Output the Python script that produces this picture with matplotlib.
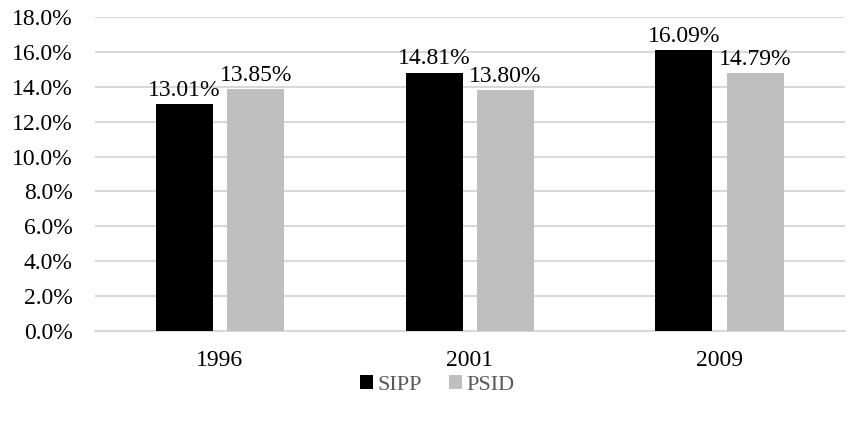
import matplotlib
matplotlib.use("Agg")
import matplotlib.pyplot as plt
import numpy as np

years = ["1996", "2001", "2009"]
sipp = [13.01, 14.81, 16.09]
psid = [13.85, 13.80, 14.79]
yticks = [0, 2, 4, 6, 8, 10, 12, 14, 16, 18]

plt.rcParams['font.family'] = ['Liberation Serif', 'DejaVu Serif']

fig = plt.figure(figsize=(8.48, 4.26), dpi=100)
ax = fig.add_axes([0.112, 0.223, 0.884, 0.737])

x = np.arange(len(years))
w = 0.228
off = 0.143
b1 = ax.bar(x - off, sipp, w, color="#000000", label="SIPP", zorder=3)
b2 = ax.bar(x + off, psid, w, color="#BFBFBF", label="PSID", zorder=3)

for rects, vals in ((b1, sipp), (b2, psid)):
    for r, v in zip(rects, vals):
        ax.text(r.get_x() + r.get_width() / 2, v + 0.2, f"{v:.2f}%",
                ha="center", va="bottom", fontsize=17, color="#000000")

ax.set_xlim(-0.5, 2.5)
ax.set_ylim(0, 18)
ax.set_yticks(yticks)
ax.set_yticklabels([f"{t:.1f}%" for t in yticks], fontsize=17)
ax.set_xticks(x)
ax.set_xticklabels(years, fontsize=17)
ax.tick_params(axis="y", length=0, pad=16)
ax.tick_params(axis="x", length=0, pad=14)
ax.yaxis.grid(True, color="#D9D9D9", linewidth=1.5, zorder=0)
for s in ["top", "right", "left"]:
    ax.spines[s].set_visible(False)
ax.spines["bottom"].set_color("#D9D9D9")
ax.spines["bottom"].set_linewidth(1.5)

leg = fig.legend(handles=[b1, b2], loc="center", bbox_to_anchor=(0.516, 0.096),
                 ncol=2, frameon=False, fontsize=16, handlelength=0.6,
                 handleheight=0.6, handletextpad=0.2, columnspacing=1.2)
for t in leg.get_texts():
    t.set_color("#595959")

fig.savefig("out.png", dpi=100)
